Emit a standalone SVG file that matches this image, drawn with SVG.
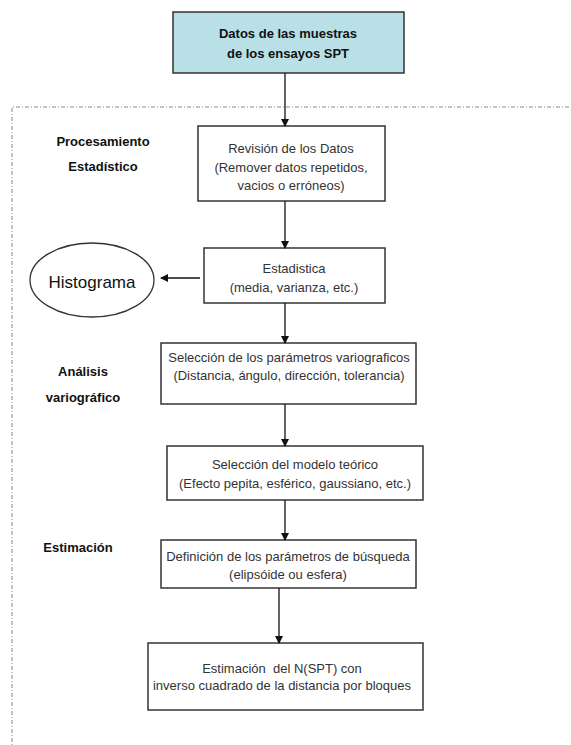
<svg xmlns="http://www.w3.org/2000/svg" width="571" height="745" viewBox="0 0 571 745">
<defs>
<marker id="ah" markerWidth="8" markerHeight="8" refX="7" refY="4" orient="auto" markerUnits="userSpaceOnUse">
<path d="M0,0 L8,4 L0,8 Z" fill="#111"/>
</marker>
</defs>
<style>
.box{fill:#fff;stroke:#333;stroke-width:1.5}
.t{font-family:"Liberation Sans",Arial,sans-serif;font-size:13px;fill:#333;text-anchor:middle}
.b{font-family:"Liberation Sans",Arial,sans-serif;font-size:13px;font-weight:bold;fill:#111;text-anchor:middle}
.c{stroke:#111;stroke-width:1.3;fill:none;marker-end:url(#ah)}
</style>
<rect width="571" height="745" fill="#fff"/>
<g id="frame">
<path d="M12,760 L12,107 L580,107" fill="none" stroke="#888" stroke-width="1" stroke-dasharray="4,2,1,2"/>
</g>
<g id="labels">
<text class="b" x="103" y="146">Procesamiento</text>
<text class="b" x="103" y="171">Estadístico</text>
<text class="b" x="83" y="376">Análisis</text>
<text class="b" x="83" y="402">variográfico</text>
<text class="b" x="78" y="552">Estimación</text>
</g>
<g id="datos">
<rect x="173" y="12" width="231" height="61" fill="#b8e0e6" stroke="#333" stroke-width="1.5"/>
<text class="b" x="288" y="38">Datos de las muestras</text>
<text class="b" x="288" y="58">de los ensayos SPT</text>
</g>
<g id="revision">
<rect class="box" x="198" y="126" width="187" height="75"/>
<text class="t" x="291" y="153">Revisión de los Datos</text>
<text class="t" x="291" y="172">(Remover datos repetidos,</text>
<text class="t" x="291" y="190">vacios o erróneos)</text>
</g>
<g id="estadistica">
<rect class="box" x="204" y="248" width="181" height="55"/>
<text class="t" x="294" y="273">Estadistica</text>
<text class="t" x="294" y="292">(media, varianza, etc.)</text>
</g>
<g id="histograma">
<ellipse cx="92" cy="280" rx="62" ry="37" fill="#fff" stroke="#333" stroke-width="1.3"/>
<text x="92" y="288" font-family="Liberation Sans, Arial, sans-serif" font-size="17" fill="#111" text-anchor="middle">Histograma</text>
</g>
<g id="parametros">
<rect class="box" x="161" y="343" width="255" height="61"/>
<text class="t" x="289" y="362">Selección de los parámetros variograficos</text>
<text class="t" x="289" y="380">(Distancia, ángulo, dirección, tolerancia)</text>
</g>
<g id="modelo">
<rect class="box" x="167" y="446" width="256" height="54"/>
<text class="t" x="295" y="469">Selección del modelo teórico</text>
<text class="t" x="295" y="488">(Efecto pepita, esférico, gaussiano, etc.)</text>
</g>
<g id="busqueda">
<rect class="box" x="161" y="540" width="255" height="48"/>
<text class="t" x="288" y="561">Definición de los parámetros de búsqueda</text>
<text class="t" x="288" y="579">(elipsóide ou esfera)</text>
</g>
<g id="estimacion">
<rect class="box" x="148" y="643" width="275" height="67"/>
<text class="t" x="282" y="673" xml:space="preserve">Estimación  del N(SPT) con</text>
<text class="t" x="282" y="690">inverso cuadrado de la distancia por bloques</text>
</g>
<g id="connectors">
<line class="c" x1="285" y1="73" x2="285" y2="126"/>
<line class="c" x1="285" y1="201" x2="285" y2="248"/>
<line class="c" x1="200" y1="278" x2="161" y2="278"/>
<line class="c" x1="285" y1="303" x2="285" y2="343"/>
<line class="c" x1="285" y1="404" x2="285" y2="446"/>
<line class="c" x1="285" y1="500" x2="285" y2="540"/>
<line class="c" x1="279" y1="588" x2="279" y2="643"/>
</g>
</svg>
